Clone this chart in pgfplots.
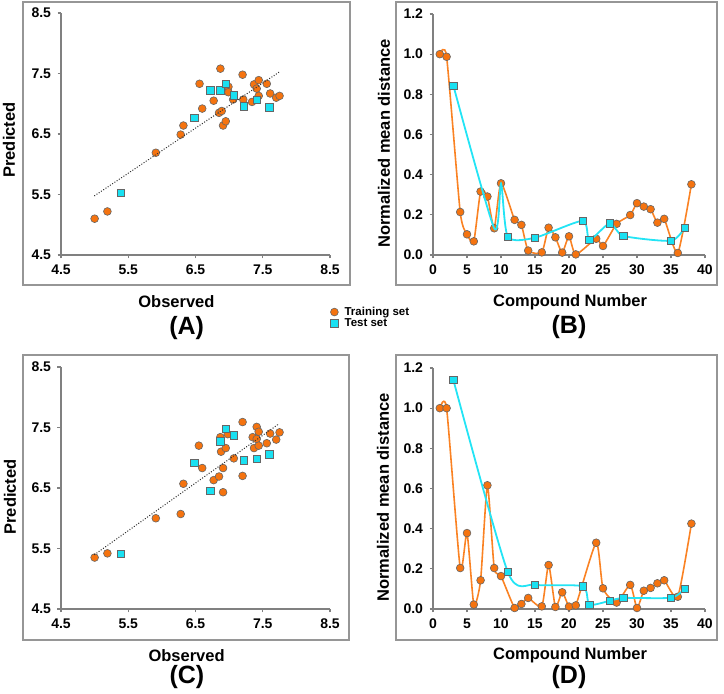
\documentclass[border=0pt]{standalone}
\usepackage{fontspec}
\setmainfont{Liberation Sans}
\usepackage{pgfplots}
\pgfplotsset{compat=1.18}

\definecolor{trainfill}{RGB}{245,115,15}
\definecolor{trainline}{RGB}{250,130,35}
\definecolor{testfill}{RGB}{25,225,242}
\definecolor{testline}{RGB}{35,228,245}
\definecolor{axgray}{RGB}{128,128,128}
\definecolor{framegray}{RGB}{150,150,150}

\newcommand{\tickfont}{\fontsize{14}{16}\selectfont\bfseries}
\newcommand{\labfont}{\fontsize{16.5}{19}\selectfont\bfseries}
\newcommand{\panfont}{\fontsize{25}{28}\selectfont\bfseries}

\pgfplotsset{
  panel/.style={
    scale only axis, clip mode=individual,
    axis x line=bottom, axis y line=left,
    axis line style={-, axgray, line width=1.2pt},
    tick align=outside, major tick length=3.5pt,
    tick style={axgray, line width=1.1pt},
    tick label style={font=\tickfont},
    /pgf/number format/assume math mode=true,
    label style={font=\labfont},
    xticklabel style={yshift=-3pt},
    yticklabel style={xshift=-3pt},
  },
  scatterpanel/.style={panel, width=269pt, height=242pt,
    xmin=4.5, xmax=8.5, ymin=4.5, ymax=8.5,
    xtick={4.5,5.5,...,8.5}, ytick={4.5,5.5,...,8.5},
    xticklabel style={/pgf/number format/.cd, fixed, fixed zerofill, precision=1},
    yticklabel style={/pgf/number format/.cd, fixed, fixed zerofill, precision=1},
    xlabel={Observed}, ylabel={Predicted}},
  distpanel/.style={panel, width=272pt, height=241pt,
    xmin=0, xmax=40, ymin=0, ymax=1.2,
    xtick={0,5,...,40}, ytick={0,0.2,...,1.2},
    yticklabel style={/pgf/number format/.cd, fixed, fixed zerofill, precision=1},
    xlabel={Compound Number}, ylabel={Normalized mean distance}},
  trainmk/.style={mark=*, mark size=3.9pt,
    mark options={solid, fill=trainfill, draw=black!60, line width=0.6pt}},
  testmk/.style={mark=square*, mark size=3.7pt,
    mark options={solid, fill=testfill, draw=black!60, line width=0.6pt}},
  trend/.style={forget plot, black!80, line width=1.4pt, line cap=round,
    dash pattern=on 0.1pt off 2.6pt},
}

% (A) observed / predicted
\pgfplotstableread{
x y
5.00 5.10
5.19 5.22
5.91 6.19
6.28 6.49
6.32 6.64
6.56 7.33
6.60 6.92
6.77 7.05
6.87 7.58
6.85 6.85
6.89 6.88
6.91 6.64
6.95 6.71
6.99 7.28
6.99 7.19
7.06 7.07
7.20 7.48
7.21 7.07
7.34 7.03
7.37 7.32
7.41 7.25
7.44 7.39
7.44 7.13
7.56 7.33
7.61 7.17
7.70 7.10
7.75 7.13
}\trainA
\pgfplotstableread{
x y
5.39 5.53
6.48 6.77
6.72 7.22
6.87 7.22
6.95 7.33
7.07 7.14
7.22 6.96
7.41 7.07
7.60 6.94
}\testA

% (C)
\pgfplotstableread{
x y
5.00 5.35
5.19 5.42
5.91 6.00
6.28 6.07
6.32 6.57
6.55 7.20
6.60 6.83
6.77 6.63
6.85 6.69
6.87 7.34
6.88 7.10
6.91 6.83
6.91 6.43
6.95 7.16
6.98 7.39
7.07 6.99
7.20 7.59
7.20 6.70
7.35 7.34
7.37 7.16
7.41 7.51
7.44 7.43
7.41 7.31
7.44 7.20
7.56 7.24
7.61 7.40
7.70 7.30
7.75 7.42
}\trainC
\pgfplotstableread{
x y
5.39 5.41
6.48 6.92
6.72 6.45
6.87 7.27
6.95 7.48
7.07 7.37
7.22 6.96
7.41 6.98
7.60 7.06
}\testC

% (B) normalized mean distance
\pgfplotstableread{
n d
1 1.000
2 0.987
4 0.214
5 0.103
6 0.068
7 0.316
8 0.291
9 0.133
10 0.357
12 0.175
13 0.150
14 0.022
16 0.013
17 0.136
18 0.088
19 0.012
20 0.093
21 0.003
24 0.081
25 0.045
27 0.155
29 0.199
30 0.258
31 0.241
32 0.228
33 0.161
34 0.180
36 0.010
38 0.352
}\trainB
\pgfplotstableread{
n d
3 0.843
11 0.091
15 0.086
22 0.170
23 0.075
26 0.158
28 0.095
35 0.071
37 0.136
}\testB
% path of the test-set line as drawn (it runs through 9 and 10)
\pgfplotstableread{
n d
3 0.843
9 0.133
10 0.357
11 0.091
15 0.086
22 0.170
23 0.075
26 0.158
28 0.095
35 0.071
37 0.136
}\testlineB

% (D)
\pgfplotstableread{
n d
1 1.000
2 1.000
4 0.204
5 0.378
6 0.022
7 0.143
8 0.616
9 0.204
10 0.164
12 0.005
13 0.025
14 0.055
16 0.013
17 0.219
18 0.010
19 0.083
20 0.012
21 0.018
24 0.330
25 0.103
27 0.032
29 0.120
30 0.005
31 0.091
32 0.105
33 0.128
34 0.143
36 0.061
38 0.425
}\trainD
\pgfplotstableread{
n d
3 1.140
11 0.184
15 0.121
22 0.113
23 0.022
26 0.041
28 0.055
35 0.056
37 0.101
}\testD

\begin{document}
\begin{tikzpicture}
\path[use as bounding box] (0pt,0pt) rectangle (724pt,694pt);

% panel frames
\draw[framegray, line width=1.2pt] (23pt,409pt) rectangle (350pt,692pt);
\draw[framegray, line width=1.2pt] (396pt,409pt) rectangle (717pt,692pt);
\draw[framegray, line width=1.2pt] (23pt,54pt) rectangle (349pt,339pt);
\draw[framegray, line width=1.2pt] (396pt,54pt) rectangle (717pt,339pt);

% (A)
\begin{axis}[scatterpanel, at={(61pt,439pt)}, anchor=south west,
  xlabel style={at={(axis description cs:0.429,-0.194)}, anchor=center},
  ylabel style={at={(axis description cs:-0.193,0.475)}, anchor=center},
  legend style={at={(axis description cs:1.0,-0.212)}, anchor=north west,
    draw=none, fill=none, font=\fontsize{11.5}{12}\selectfont\bfseries,
    inner sep=0pt, row sep=0pt,
    nodes={inner sep=0pt, text height=8.5pt, text depth=2.6pt}},
  legend cell align=left,
  legend image code/.code={\path (0pt,0pt) (14pt,0pt);
    \draw[#1] plot coordinates {(4pt,0pt)};}]
\addplot[only marks, trainmk] table {\trainA};
\addlegendentry{Training set}
\addplot[only marks, testmk] table {\testA};
\addlegendentry{Test set}
\addplot[trend] coordinates {(5.0,5.48) (7.74,7.52)};
\node[font=\panfont] at (axis description cs:0.467,-0.302) {(A)};
\end{axis}

% (B)
\begin{axis}[distpanel, at={(433pt,439pt)}, anchor=south west,
  xlabel style={at={(axis description cs:0.504,-0.195)}, anchor=center},
  ylabel style={at={(axis description cs:-0.180,0.463)}, anchor=center}]
\addplot[trainline, line width=1.6pt, smooth, tension=0.35, trainmk] table {\trainB};
\addplot[testline, line width=1.8pt, smooth, tension=0.4] table {\testlineB};
\addplot[only marks, testmk] table {\testB};
\node[font=\panfont] at (axis description cs:0.50,-0.299) {(B)};
\end{axis}

% (C)
\begin{axis}[scatterpanel, at={(61pt,85pt)}, anchor=south west,
  xlabel style={at={(axis description cs:0.467,-0.191)}, anchor=center},
  ylabel style={at={(axis description cs:-0.19,0.463)}, anchor=center}]
\addplot[only marks, trainmk] table {\trainC};
\addplot[only marks, testmk] table {\testC};
\addplot[trend] coordinates {(5.0,5.40) (7.74,7.56)};
\node[font=\panfont] at (axis description cs:0.468,-0.282) {(C)};
\end{axis}

% (D)
\begin{axis}[distpanel, at={(433pt,85pt)}, anchor=south west,
  xlabel style={at={(axis description cs:0.504,-0.191)}, anchor=center},
  ylabel style={at={(axis description cs:-0.184,0.463)}, anchor=center}]
\addplot[trainline, line width=1.6pt, smooth, tension=0.35, trainmk] table {\trainD};
\addplot[testline, line width=1.8pt, smooth, tension=0.4] table {\testD};
\addplot[only marks, testmk] table {\testD};
\node[font=\panfont] at (axis description cs:0.50,-0.282) {(D)};
\end{axis}
\end{tikzpicture}
\end{document}
